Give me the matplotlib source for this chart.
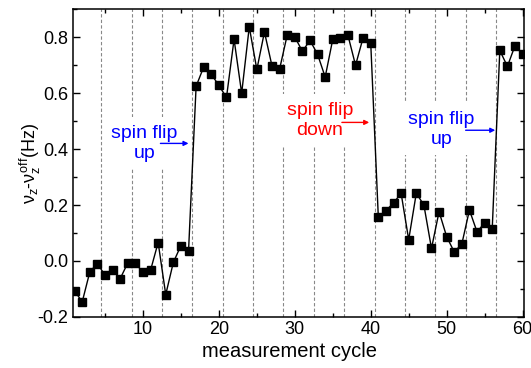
import numpy as np
import matplotlib.pyplot as plt
from matplotlib.ticker import MultipleLocator

plt.rcParams['font.family'] = 'Liberation Sans'
plt.rcParams['mathtext.fontset'] = 'custom'
plt.rcParams['mathtext.rm'] = 'Liberation Sans'
plt.rcParams['mathtext.it'] = 'Liberation Sans'

# measurement cycle number and frequency difference (Hz)
cycle = np.arange(1, 61)
delta_nu = [-0.107, -0.146, -0.039, -0.009, -0.051, -0.033, -0.063, -0.007, -0.007, -0.041,
            -0.033, 0.066, -0.120, -0.005, 0.055, 0.034, 0.624, 0.693, 0.667, 0.627,
            0.584, 0.792, 0.599, 0.836, 0.684, 0.818, 0.696, 0.686, 0.807, 0.800,
            0.749, 0.788, 0.738, 0.657, 0.792, 0.797, 0.806, 0.699, 0.798, 0.778,
            0.156, 0.180, 0.207, 0.242, 0.076, 0.242, 0.200, 0.045, 0.176, 0.087,
            0.032, 0.061, 0.182, 0.104, 0.136, 0.114, 0.752, 0.695, 0.769, 0.740]

# boundaries between groups of cycles
boundaries = [4.5, 8.5, 12.5, 16.5, 20.5, 24.5, 28.5, 32.5, 36.5, 40.5, 44.5, 48.5, 52.5, 56.5]

# annotations: text, colour, text position, arrow start, arrow end
notes = [
    ("spin flip\nup", "blue", (10.2, 0.42), (12.3, 0.42), (16.0, 0.42)),
    ("spin flip\ndown", "red", (33.3, 0.502), (36.2, 0.495), (39.8, 0.495)),
    ("spin flip\nup", "blue", (49.3, 0.47), (52.5, 0.467), (56.4, 0.467)),
]

fig = plt.figure(figsize=(5.31, 3.68), dpi=100)
ax = fig.add_axes([0.1384, 0.1386, 0.8479, 0.8369])

for b in boundaries:
    ax.axvline(b, color='#888888', lw=0.8, ls=(0, (3, 2)), zorder=1)

ax.plot(cycle, delta_nu, color='black', lw=1.0, marker='s', ms=5.5,
        mfc='black', mec='black', zorder=4)

for txt, col, pos, a0, a1 in notes:
    ax.text(pos[0], pos[1], txt, color=col, fontsize=14, ha='center', va='center',
            linespacing=1.2, zorder=3,
            bbox=dict(boxstyle='square,pad=0.4', fc='white', ec='none'))
    ax.annotate('', xy=a1, xytext=a0, zorder=5,
                arrowprops=dict(arrowstyle='-|>', color=col, lw=1.0,
                                mutation_scale=7, shrinkA=0, shrinkB=0))

ax.set_xlim(0.85, 60.15)
ax.set_ylim(-0.2, 0.9)
ax.xaxis.set_major_locator(MultipleLocator(10))
ax.xaxis.set_minor_locator(MultipleLocator(5))
ax.yaxis.set_major_locator(MultipleLocator(0.2))
ax.yaxis.set_minor_locator(MultipleLocator(0.1))
ax.yaxis.set_major_formatter(plt.FuncFormatter(lambda v, p: f"{v:.1f}"))

ax.tick_params(which='both', direction='in', top=True, right=True, width=1.0)
ax.tick_params(which='major', length=5, labelsize=13)
ax.tick_params(which='minor', length=3)
ax.tick_params(axis='x', pad=3)
ax.tick_params(axis='y', pad=4)
for s in ax.spines.values():
    s.set_linewidth(1.1)

ax.set_xlabel('measurement cycle', fontsize=14.5)
ax.set_ylabel(r'$\nu_z$-$\nu_z^{off}$(Hz)', fontsize=13)
ax.xaxis.set_label_coords(0.479, -0.082)
ax.yaxis.set_label_coords(-0.068, 0.5)

fig.savefig('out.png', dpi=100)
